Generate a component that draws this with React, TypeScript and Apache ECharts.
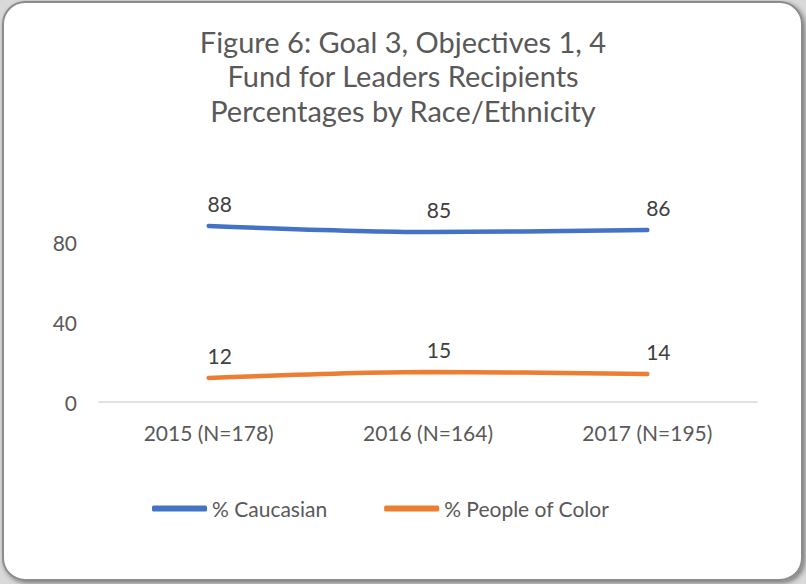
import React, { useEffect, useRef } from "react";
import * as echarts from "echarts";

const categories = ["2015 (N=178)", "2016 (N=164)", "2017 (N=195)"];
const caucasian = [88, 85, 86];
const peopleOfColor = [12, 15, 14];
const seriesNames = ["% Caucasian", "% People of Color"];
const titleLines = [
  "Figure 6: Goal 3, Objectives 1, 4",
  "Fund for Leaders Recipients",
  "Percentages by Race/Ethnicity",
];

const FONT = "Lato, 'Open Sans', sans-serif";
const TEXT = "#595959";

export default function App() {
  const ref = useRef<HTMLDivElement>(null);
  useEffect(() => {
    document.body.style.margin = "0";
    if (!ref.current) return;
    const chart = echarts.init(ref.current, undefined, { renderer: "svg" });
    const labelStyle = {
      show: true,
      position: "top" as const,
      distance: 12,
      offset: [11, 0],
      fontSize: 21,
      fontFamily: FONT,
      color: "#404040",
    };
    chart.setOption({
      animation: false,
      backgroundColor: "#d9d9d9",
      graphic: [
        {
          type: "rect",
          z: -10,
          shape: { x: 3, y: 2, width: 799, height: 578, r: 22 },
          style: {
            fill: "#ffffff",
            stroke: "#8c8c8c",
            lineWidth: 2,
            shadowBlur: 5,
            shadowOffsetX: 2,
            shadowOffsetY: 2,
            shadowColor: "rgba(0,0,0,0.45)",
          },
        },
      ],
      title: {
        text: titleLines.join("\n"),
        left: "center",
        top: 19,
        textStyle: {
          fontFamily: FONT,
          fontSize: 29,
          fontWeight: "normal",
          color: TEXT,
          lineHeight: 34.5,
        },
      },
      legend: {
        data: seriesNames,
        bottom: 60,
        left: 147,
        icon: "roundRect",
        itemWidth: 55,
        itemHeight: 6,
        itemGap: 57,
        textStyle: { fontFamily: FONT, fontSize: 21, color: TEXT },
      },
      grid: { left: 99, right: 49, top: 202, bottom: 182, containLabel: false },
      xAxis: {
        type: "category",
        data: categories,
        boundaryGap: true,
        axisLine: { show: true, lineStyle: { color: "#d9d9d9", width: 1.5 } },
        axisTick: { show: false },
        axisLabel: { fontFamily: FONT, fontSize: 21, color: TEXT, margin: 20 },
      },
      yAxis: {
        type: "value",
        min: 0,
        max: 100,
        interval: 40,
        axisLine: { show: false },
        axisTick: { show: false },
        splitLine: { show: false },
        axisLabel: {
          fontFamily: FONT,
          fontSize: 21,
          color: TEXT,
          margin: 22,
          showMaxLabel: false,
        },
      },
      series: [
        {
          name: seriesNames[0],
          type: "line",
          data: caucasian,
          smooth: 0.3,
          symbol: "circle",
          symbolSize: 0,
          showSymbol: true,
          lineStyle: { color: "#4472C4", width: 4.5, cap: "round" },
          itemStyle: { color: "#4472C4" },
          label: labelStyle,
        },
        {
          name: seriesNames[1],
          type: "line",
          data: peopleOfColor,
          smooth: 0.3,
          symbol: "circle",
          symbolSize: 0,
          showSymbol: true,
          lineStyle: { color: "#ED7D31", width: 4.5, cap: "round" },
          itemStyle: { color: "#ED7D31" },
          label: labelStyle,
        },
      ],
    });
    return () => chart.dispose();
  }, []);
  return <div ref={ref} style={{ width: 806, height: 584 }} />;
}
